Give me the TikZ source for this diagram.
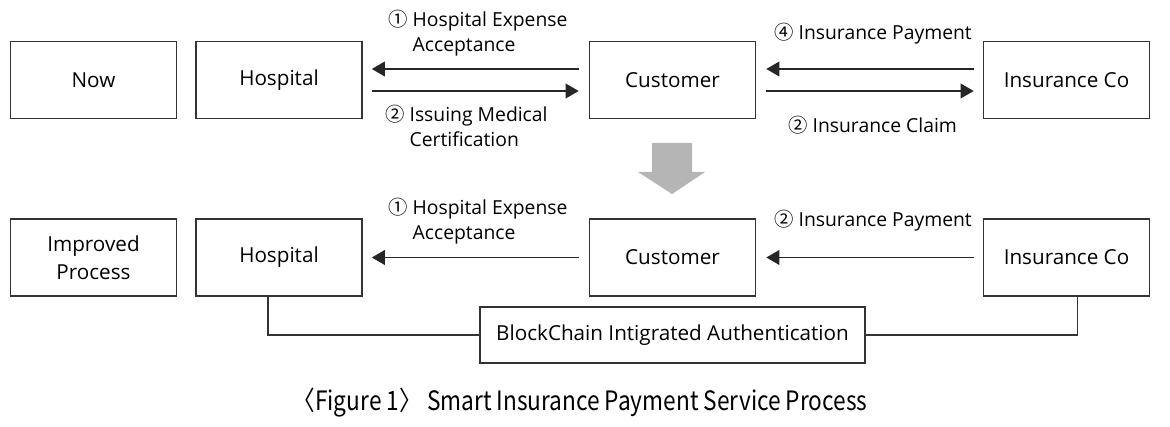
\documentclass[tikz,border=0pt]{standalone}
\usepackage{fontspec}
\setmainfont{Open Sans}
\newfontfamily\krfont{Noto Sans CJK KR}
\newfontfamily\capfont[FakeStretch=0.85]{Noto Sans CJK KR}
\usetikzlibrary{arrows.meta,calc}
\definecolor{arrowgray}{RGB}{181,181,181}
\newcommand{\cnum}[1]{{\krfont #1}}

\begin{document}
\begin{tikzpicture}[x=0.75pt,y=0.75pt,yscale=-1,xscale=1,
	box/.style={draw=black!80,line width=1.2pt,minimum width=124.5pt,minimum height=57.75pt,inner sep=2pt,align=center,font=\fontsize{15.5}{21}\selectfont},
	flow/.style={draw=black!85,line width=1.1pt,-{Triangle[length=9.75pt,width=11pt]}},
	lbl/.style={inner sep=0pt,anchor=base west,font=\fontsize{14.5}{18.75}\selectfont},
	link/.style={draw=black!80,line width=1.1pt}]
	\useasboundingbox (0,0) rectangle (1170,427);

	% Now row
	\node[box] (now) at (93.5,80) {Now};
	\node[box] (hosp) at (279,80) {Hospital};
	\node[box] (cust) at (672.5,80) {Customer};
	\node[box] (insur) at (1066.5,80) {Insurance Co};

	\draw[flow] ($(cust.west)+(-10,-11)$) -- ($(hosp.east)+(9,-11)$);
	\draw[flow] ($(hosp.east)+(9,11)$) -- ($(cust.west)+(-10,11)$);
	\draw[flow] ($(insur.west)+(-9,-11)$) -- ($(cust.east)+(10,-11)$);
	\draw[flow] ($(cust.east)+(10,11)$) -- ($(insur.west)+(-9,11)$);

	% Text Node
	\node[lbl] (accept) at (388,27) {\begin{tabular}[t]{@{}l@{ }l@{}}\cnum{①} & Hospital Expense\\ & Acceptance\end{tabular}};
	% Text Node
	\node[lbl] (issue) at (385,122) {\begin{tabular}[t]{@{}l@{ }l@{}}\cnum{②} & Issuing Medical\\ & Certification\end{tabular}};
	% Text Node
	\node[lbl] (pay) at (774,40) {\cnum{④} Insurance Payment};
	% Text Node
	\node[lbl] (claim) at (788,133) {\cnum{②} Insurance Claim};

	% transition
	\fill[arrowgray] (652,143) -- (692,143) -- (692,172) -- (705,172) -- (672,194) -- (638,172) -- (652,172) -- cycle;

	% Improved row
	\node[box] (better) at (93.5,257.5) {Improved\\Process};
	\node[box] (hosp2) at (279,257.5) {Hospital};
	\node[box] (cust2) at (672.5,257.5) {Customer};
	\node[box] (insur2) at (1066.5,257.5) {Insurance Co};
	\node[box,minimum width=288.75pt,minimum height=42pt] (chain) at (672.5,335) {BlockChain Intigrated Authentication};

	\draw[flow] ($(cust2.west)+(-10,0)$) -- ($(hosp2.east)+(9,0)$);
	\draw[flow] ($(insur2.west)+(-9,0)$) -- ($(cust2.east)+(10,0)$);
	\draw[link] ($(hosp2.south)+(-11,0)$) |- (chain.west);
	\draw[link] ($(insur2.south)+(11,0)$) |- (chain.east);

	% Text Node
	\node[lbl] (accept2) at (388,215) {\begin{tabular}[t]{@{}l@{ }l@{}}\cnum{①} & Hospital Expense\\ & Acceptance\end{tabular}};
	% Text Node
	\node[lbl] (pay2) at (774,227) {\cnum{②} Insurance Payment};

	% caption
	\node[inner sep=0pt,font=\capfont\fontsize{20}{24}\selectfont] (caption) at (580,403) {〈Figure 1〉 Smart Insurance Payment Service Process};

\end{tikzpicture}
\end{document}
